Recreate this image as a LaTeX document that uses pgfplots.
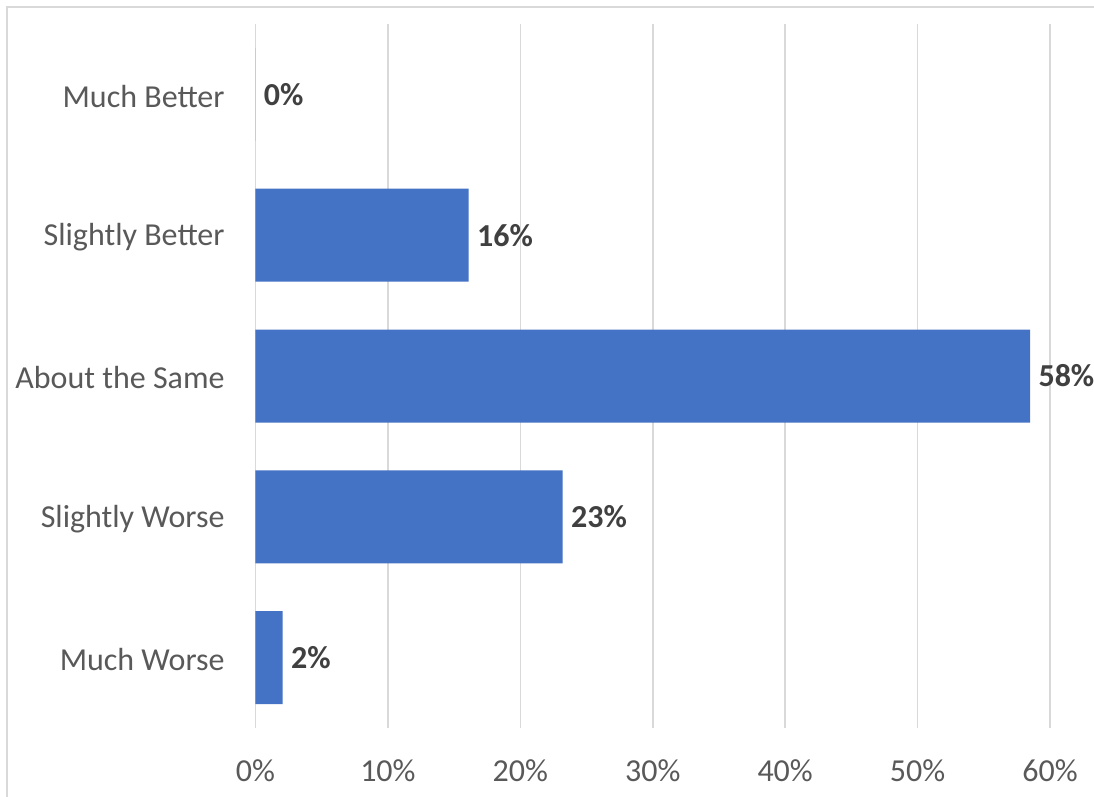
\documentclass[border=0pt]{standalone}
\usepackage{pgfplots}
\pgfplotsset{compat=1.18}
\usepackage{fontspec}
\setmainfont{Carlito}
\definecolor{barblue}{HTML}{4472C4}
\definecolor{txtgray}{HTML}{595959}
\definecolor{lblgray}{HTML}{404040}
\definecolor{gridgray}{HTML}{D9D9D9}
\begin{document}
\begin{tikzpicture}
\path[use as bounding box] (0,0) rectangle (547pt,398.5pt);
\draw[gridgray, line width=0.8pt] (3.5pt,0) -- (3.5pt,395pt) -- (547pt,395pt);
\begin{axis}[
  at={(127.75pt,34.5pt)}, anchor=south west,
  scale only axis, width=397.25pt, height=352pt,
  xbar, bar width=46.5pt, bar shift=0pt,
  xmin=0, xmax=60, ymin=-0.5, ymax=4.5, y dir=reverse,
  xtick={0,10,20,30,40,50,60},
  xticklabel={\pgfmathprintnumber{\tick}\%},
  ytick={0,1,2,3,4},
  yticklabels={Much Better,Slightly Better,About the Same,Slightly Worse,Much Worse},
  /pgf/number format/assume math mode=true,
  xmajorgrids, major grid style={gridgray, line width=0.8pt},
  axis line style={draw=none}, tick style={draw=none},
  ticklabel style={font=\fontsize{16}{18}\selectfont, text=txtgray},
  xticklabel style={anchor=north, inner sep=0pt, yshift=-15.5pt},
  yticklabel style={anchor=east, inner sep=0pt, xshift=-11pt, yshift=-1pt},
  point meta=explicit symbolic,
  nodes near coords={\pgfplotspointmeta\%},
  nodes near coords style={font=\bfseries\fontsize{16}{18}\selectfont, text=lblgray, anchor=west, inner sep=0pt, xshift=4pt},
  clip=false,
]
\addplot[fill=barblue, draw=none] table[x=v, y=c, meta=l] {
c v l
0 0 0
1 16.1 16
2 58.5 58
3 23.2 23
4 2.05 2
};
\end{axis}
\end{tikzpicture}
\end{document}
